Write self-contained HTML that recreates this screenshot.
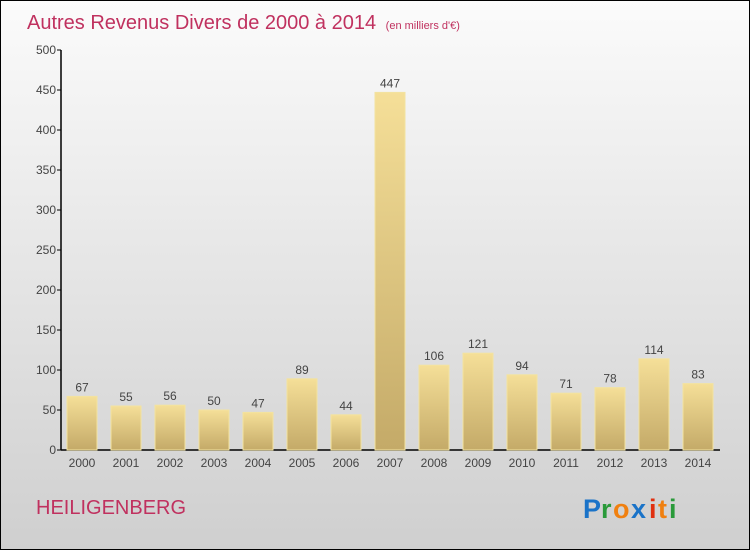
<!DOCTYPE html>
<html><head><meta charset="utf-8"><style>
body{margin:0}
#c{width:748px;height:548px;border:1px solid #000;background:linear-gradient(#fbfbfb,#cfcfcf);position:relative;overflow:hidden;font-family:"Liberation Sans",sans-serif}
</style></head><body>
<div id="c">
<svg id="s" width="748" height="548">
<defs><linearGradient id="g" x1="0" y1="0" x2="0" y2="1"><stop offset="0" stop-color="#f5df98"/><stop offset="1" stop-color="#c4aa68"/></linearGradient></defs>
<text x="26" y="28" font-size="20" fill="#c0315f">Autres Revenus Divers de 2000 à 2014 <tspan font-size="11" dx="4">(en milliers d'€)</tspan></text>
<text x="35" y="513" font-size="20" fill="#c0315f">HEILIGENBERG</text>
<g font-size="27" font-family="Liberation Sans" font-weight="bold">
<text x="582" y="517" fill="#1a73c8">P</text><text x="600" y="517" fill="#2a9a3a">r</text><text x="612" y="517" fill="#f08010">o</text><text x="630" y="517" fill="#1a73c8">x</text><text x="648" y="517" fill="#e03010">i</text><text x="657" y="517" fill="#f08010">t</text><text x="668" y="517" fill="#2a9a3a">i</text>
</g>
</svg>
</div>
<script>
const years=["2000","2001","2002","2003","2004","2005","2006","2007","2008","2009","2010","2011","2012","2013","2014"];
const values=[67,55,56,50,47,89,44,447,106,121,94,71,78,114,83];
const ticks=[0,50,100,150,200,250,300,350,400,450,500];
const s=document.getElementById('s');
const NS="http://www.w3.org/2000/svg";
const y0=449,ppu=0.8,x0=81,step=44,bw=30;
const Y=v=>y0-v*ppu, X=i=>x0+i*step;
function mk(t,a,txt){const e=document.createElementNS(NS,t);for(const k in a)e.setAttribute(k,a[k]);if(txt!=null)e.textContent=txt;s.appendChild(e);return e;}
let ax=mk('line',{x1:60,y1:Y(500),x2:60,y2:y0,stroke:'#000','stroke-width':1.5});


let xa=mk('line',{x1:60,y1:y0,x2:719,y2:y0,stroke:'#000','stroke-width':1.5});


ticks.forEach(t=>{
 let l=mk('line',{x1:56,y1:Y(t),x2:60,y2:Y(t),stroke:'#000'});
 
 
 let tx=mk('text',{x:55,y:Y(t)+4,'font-size':12,fill:'#444','text-anchor':'end'},t);
 
 
});
values.forEach((v,i)=>{
 let r=mk('rect',{x:X(i)-bw/2,y:Y(v),width:bw,height:v*ppu,fill:'url(#g)',stroke:'#f3e3a0','stroke-width':1});
 
 
 let t=mk('text',{x:X(i),y:Y(v)-5,'font-size':12,fill:'#444','text-anchor':'middle'},v);
 
 
 let yl=mk('text',{x:X(i),y:466,'font-size':12,fill:'#444','text-anchor':'middle'},years[i]);
 
 
});
</script>
</body></html>
